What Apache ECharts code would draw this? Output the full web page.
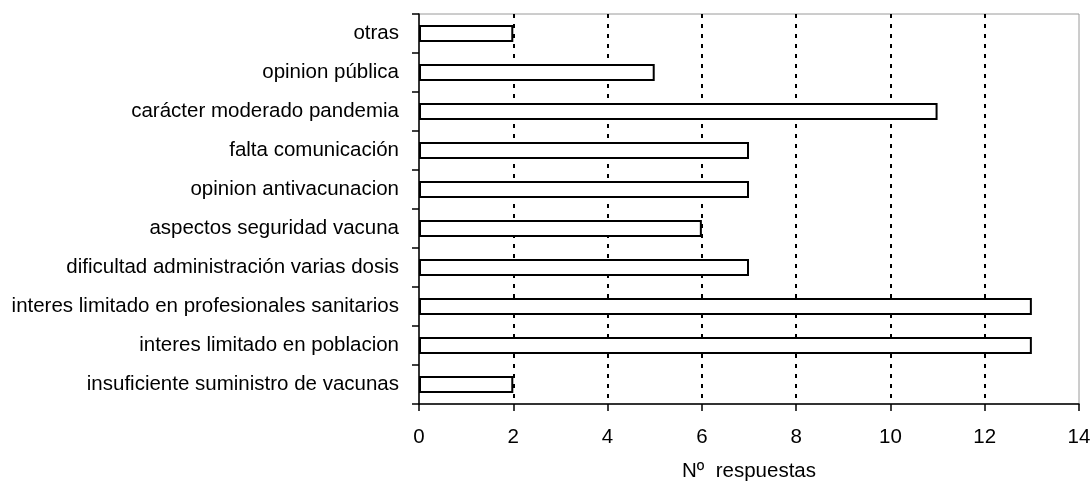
<!DOCTYPE html>
<html>
<head>
<meta charset="utf-8">
<script src="https://cdn.jsdelivr.net/npm/echarts@6/dist/echarts.min.js"></script>
<style>
  html, body { margin: 0; padding: 0; background: #fff; }
  #chart { width: 1092px; height: 483px; }
</style>
</head>
<body>
<div id="chart"></div>
<script>
// Reasons, listed bottom to top as they appear on the category axis
const categories = [
  'insuficiente suministro de vacunas',
  'interes limitado en poblacion',
  'interes limitado en profesionales sanitarios',
  'dificultad administración varias dosis',
  'aspectos seguridad vacuna',
  'opinion antivacunacion',
  'falta comunicación',
  'carácter moderado pandemia',
  'opinion pública',
  'otras'
];
const respuestas = [2, 13, 13, 7, 6, 7, 7, 11, 5, 2];
const xTicks = [0, 2, 4, 6, 8, 10, 12, 14];

const font = 'Liberation Sans, Arial, sans-serif';
const chart = echarts.init(document.getElementById('chart'), null, { renderer: 'canvas' });

chart.setOption({
  animation: false,
  backgroundColor: '#ffffff',
  grid: {
    left: 419, top: 14, right: 13, bottom: 79,
    show: true, borderColor: '#9a9a9a', borderWidth: 1,
    containLabel: false,
    outerBoundsMode: 'none'
  },
  xAxis: {
    type: 'value',
    min: xTicks[0],
    max: xTicks[xTicks.length - 1],
    interval: 2,
    name: 'Nº  respuestas',
    nameLocation: 'middle',
    nameGap: 57,
    nameTextStyle: { color: '#000', fontFamily: font, fontSize: 20.5 },
    axisLine: { show: true, lineStyle: { color: '#000', width: 1.5 } },
    axisTick: { show: true, length: 7, lineStyle: { color: '#000', width: 1.5 } },
    axisLabel: { color: '#000', fontFamily: font, fontSize: 20.5, margin: 23 },
    splitLine: {
      show: true, showMinLine: false, showMaxLine: false,
      lineStyle: { color: '#000', width: 2, type: [4, 6] }
    }
  },
  yAxis: {
    type: 'category',
    data: categories,
    axisLine: { show: true, lineStyle: { color: '#000', width: 1.5 } },
    axisTick: { show: true, length: 7, lineStyle: { color: '#000', width: 1.5 } },
    axisLabel: { color: '#000', fontFamily: font, fontSize: 20.5, margin: 20 },
    splitLine: { show: false }
  },
  series: [{
    type: 'bar',
    data: respuestas,
    barWidth: 17,
    itemStyle: { color: '#ffffff', borderColor: '#000', borderWidth: 2 }
  }]
});
</script>
</body>
</html>
